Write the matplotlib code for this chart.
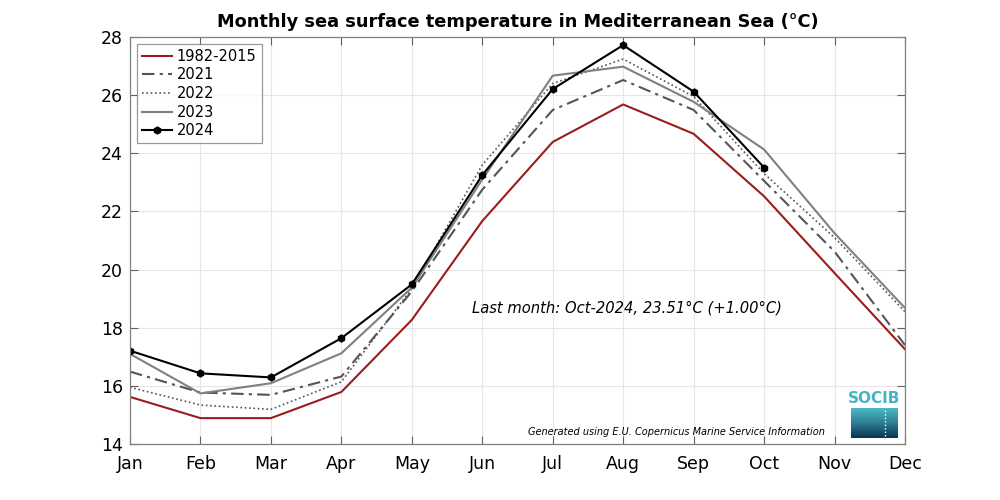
import numpy as np
import matplotlib
matplotlib.use("Agg")
import matplotlib.pyplot as plt
from matplotlib.colors import LinearSegmentedColormap

months = ["Jan", "Feb", "Mar", "Apr", "May", "Jun", "Jul", "Aug", "Sep", "Oct", "Nov", "Dec"]
clim_1982_2015 = [15.62, 14.89, 14.89, 15.79, 18.27, 21.67, 24.39, 25.68, 24.67, 22.52, 19.88, 17.26]
sst_2021 = [16.49, 15.77, 15.69, 16.32, 19.25, 22.75, 25.49, 26.52, 25.49, 23.05, 20.62, 17.40]
sst_2022 = [15.95, 15.34, 15.19, 16.14, 19.35, 23.60, 26.40, 27.24, 25.95, 23.30, 21.10, 18.55]
sst_2023 = [17.10, 15.74, 16.09, 17.12, 19.38, 23.10, 26.67, 26.98, 25.77, 24.13, 21.25, 18.68]
sst_2024 = [17.21, 16.43, 16.29, 17.64, 19.49, 23.25, 26.21, 27.72, 26.12, 23.51]
yticks = [14, 16, 18, 20, 22, 24, 26, 28]

plt.rcParams['font.family'] = ['DejaVu Sans']
fig = plt.figure(figsize=(10, 5), dpi=100)
ax = fig.add_axes([0.130, 0.112, 0.775, 0.814])

x = np.arange(len(months))
ax.plot(x, clim_1982_2015, color="#9b1c1c", lw=1.5, label="1982-2015")
ax.plot(x, sst_2021, color="#555555", lw=1.5, ls=(0, (6, 2.5, 1.5, 2.5)), label="2021")
ax.plot(x, sst_2022, color="#555555", lw=1.2, ls=(0, (1, 1.6)), label="2022")
ax.plot(x, sst_2023, color="#808080", lw=1.5, label="2023")
ax.plot(x[:len(sst_2024)], sst_2024, color="black", lw=1.5, marker="h", ms=5, label="2024")

ax.set_xlim(0, 11)
ax.set_ylim(14, 28)
ax.set_xticks(x)
ax.set_xticklabels(months)
ax.set_yticks(yticks)
ax.grid(True, color="#e6e6e6", lw=0.8)
ax.set_axisbelow(True)
ax.tick_params(direction="in", length=6, labelsize=12.5, color="#606060", top=True, right=True)
ax.tick_params(axis="x", pad=8)
ax.tick_params(axis="y", pad=5)
for s in ax.spines.values():
    s.set_color("#808080")
    s.set_linewidth(0.9)

ax.set_title("Monthly sea surface temperature in Mediterranean Sea (°C)", fontsize=12.8, fontweight="bold", pad=7)

leg = ax.legend(loc="upper left", fontsize=10.5, frameon=True, fancybox=False, edgecolor="#808080",
                borderaxespad=0.45, handlelength=2.1, handletextpad=0.3, labelspacing=0.25, borderpad=0.35)
leg.get_frame().set_linewidth(0.9)

ax.text(0.641, 0.333, "Last month: Oct-2024, 23.51°C (+1.00°C)", transform=ax.transAxes,
        ha="center", va="center", fontsize=10.6, style="italic")
ax.text(0.897, 0.017, "Generated using E.U. Copernicus Marine Service Information", transform=ax.transAxes,
        ha="right", va="bottom", fontsize=7.05, style="italic")

# SOCIB logo
lax = fig.add_axes([0.851, 0.124, 0.047, 0.060])
grad = np.linspace(0, 1, 50).reshape(-1, 1)
cmap = LinearSegmentedColormap.from_list("socib", ["#4cb9c7", "#2c7d93", "#0b3550"])
lax.imshow(grad, aspect="auto", cmap=cmap, extent=[0, 1, 0, 1])
lax.plot([0.72, 0.72], [0.08, 0.92], color="white", lw=1, ls=(0, (1, 1.5)))
lax.set_xlim(0, 1)
lax.set_ylim(0, 1)
lax.axis("off")
fig.text(0.8745, 0.188, "SOCIB", ha="center", va="bottom", fontsize=11, color="#45b5c4",
         fontweight="bold", family="DejaVu Sans Condensed")

fig.savefig("out.png", dpi=100)
